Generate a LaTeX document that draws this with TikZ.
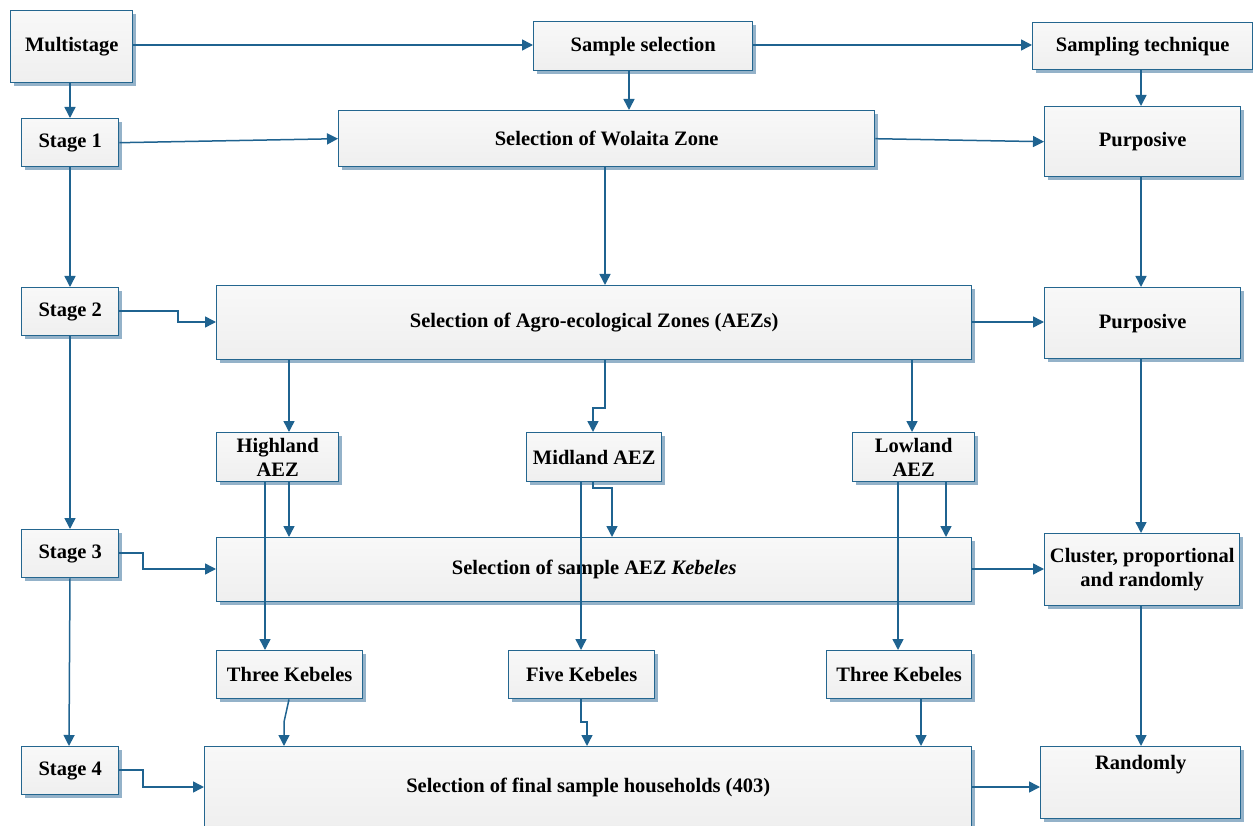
\documentclass[tikz,border=0pt]{standalone}
\usepackage{fontspec}
\setmainfont{Liberation Serif}
\usetikzlibrary{arrows.meta,shadows}
\definecolor{edgeblue}{HTML}{24668F}
\definecolor{lineblue}{HTML}{1F6390}
\definecolor{shadeblue}{HTML}{8EAEC6}
\definecolor{boxtop}{HTML}{F8F8F8}
\definecolor{boxfill}{HTML}{EFEFEF}
\tikzset{
  stepbox/.style={draw=edgeblue, line width=1.4pt, top color=boxtop, bottom color=boxfill,
    anchor=north west, inner sep=2pt, align=center,
    font=\fontsize{20.5}{24}\selectfont\bfseries,
    drop shadow={shadow xshift=3.5pt, shadow yshift=-3.5pt, fill=shadeblue, opacity=0.95}},
  link/.style={draw=lineblue, line width=1.5pt,
    -{Triangle[length=11pt,width=11pt]}},
}
\newcommand{\bx}[6]{\node[stepbox, minimum width=#4pt, minimum height=#5pt] (#1) at (#2,#3) {#6};}
\begin{document}
\begin{tikzpicture}[x=1pt,y=-1pt]
\useasboundingbox (0,0) rectangle (1253,826);
% left column: stages
\bx{multi}{10}{10}{122}{72}{Multistage}
\bx{s1}{21}{118}{97}{48}{Stage 1}
\bx{s2}{21}{287}{97}{48}{Stage 2}
\bx{s3}{21}{529}{97}{48}{Stage 3}
\bx{s4}{21}{746}{97}{48}{Stage 4}
% middle column: selection steps
\bx{sample}{533}{21}{219}{49}{Sample selection}
\bx{wol}{338}{110}{536}{56}{Selection of Wolaita Zone}
\bx{aez}{216}{285}{755}{74}{Selection of Agro-ecological Zones (AEZs)}
\bx{high}{216}{432}{122}{49}{Highland\\AEZ}
\bx{mid}{526}{432}{135}{49}{Midland AEZ}
\bx{low}{852}{432}{122}{49}{Lowland\\AEZ}
\bx{keb}{216}{537}{755}{64}{Selection of sample AEZ \textit{Kebeles}}
\bx{thh}{216}{650}{146}{48}{Three Kebeles}
\bx{five}{508}{650}{146}{48}{Five Kebeles}
\bx{thl}{826}{650}{145}{48}{Three Kebeles}
\bx{final}{204}{746}{767}{82}{Selection of final sample households (403)}
% right column: sampling techniques
\bx{tech}{1032}{22}{220}{47}{Sampling technique}
\bx{pur1}{1044}{106}{196}{70}{Purposive}
\bx{pur2}{1044}{287}{196}{71}{Purposive}
\bx{clu}{1044}{533}{195}{72}{Cluster, proportional\\and randomly}
\node[stepbox, minimum width=200pt, minimum height=72pt, text height=14pt, text depth=40pt] (rnd) at (1040,746) {Randomly};
% top row
\draw[link] (multi.east |- 0,45) -- (sample.west |- 0,45);
\draw[link] (sample.east |- 0,45) -- (tech.west |- 0,45);
\draw[link] (multi.south -| 70,0) -- (s1.north -| 70,0);
\draw[link] (sample.south -| 629,0) -- (wol.north -| 629,0);
\draw[link] (tech.south -| 1141,0) -- (pur1.north -| 1141,0);
% stage 1 row
\draw[link] (s1.east) -- (wol.west);
\draw[link] (wol.east) -- (pur1.west);
\draw[link] (s1.south -| 70,0) -- (s2.north -| 70,0);
\draw[link] (wol.south -| 605,0) -- (aez.north -| 605,0);
\draw[link] (pur1.south -| 1141,0) -- (pur2.north -| 1141,0);
% stage 2 row
\draw[link] (s2.east |- 0,311) -- (178,311) -- (178,322) -- (aez.west |- 0,322);
\draw[link] (aez.east |- 0,322) -- (pur2.west |- 0,322);
\draw[link] (aez.south -| 289,0) -- (high.north -| 289,0);
\draw[link] (aez.south -| 605,0) -- (605,408) -- (593,408) -- (mid.north -| 593,0);
\draw[link] (aez.south -| 912,0) -- (low.north -| 912,0);
\draw[link] (s2.south -| 70,0) -- (s3.north -| 70,0);
\draw[link] (pur2.south -| 1141,0) -- (clu.north -| 1141,0);
% AEZ boxes to kebele selection
\draw[link] (high.south -| 289,0) -- (keb.north -| 289,0);
\draw[link] (mid.south -| 593,0) -- (593,488) -- (612,488) -- (keb.north -| 612,0);
\draw[link] (low.south -| 946,0) -- (keb.north -| 946,0);
\draw[link] (high.south -| 265,0) -- (thh.north -| 265,0);
\draw[link] (mid.south -| 581,0) -- (five.north -| 581,0);
\draw[link] (low.south -| 898,0) -- (thl.north -| 898,0);
% stage 3 row
\draw[link] (s3.east |- 0,553) -- (143,553) -- (143,569) -- (keb.west |- 0,569);
\draw[link] (keb.east |- 0,569) -- (clu.west |- 0,569);
\draw[link] (s3.south -| 70,0) -- (s4.north -| 69,0);
\draw[link] (clu.south -| 1141,0) -- (rnd.north -| 1141,0);
% kebeles to final households
\draw[link] (thh.south -| 289,0) -- (284,722) -- (final.north -| 284,0);
\draw[link] (five.south -| 581,0) -- (581,722) -- (587,722) -- (final.north -| 587,0);
\draw[link] (thl.south -| 921,0) -- (final.north -| 921,0);
% stage 4 row
\draw[link] (s4.east |- 0,770) -- (143,770) -- (143,787) -- (final.west |- 0,787);
\draw[link] (final.east |- 0,787) -- (rnd.west |- 0,787);
\end{tikzpicture}
\end{document}
